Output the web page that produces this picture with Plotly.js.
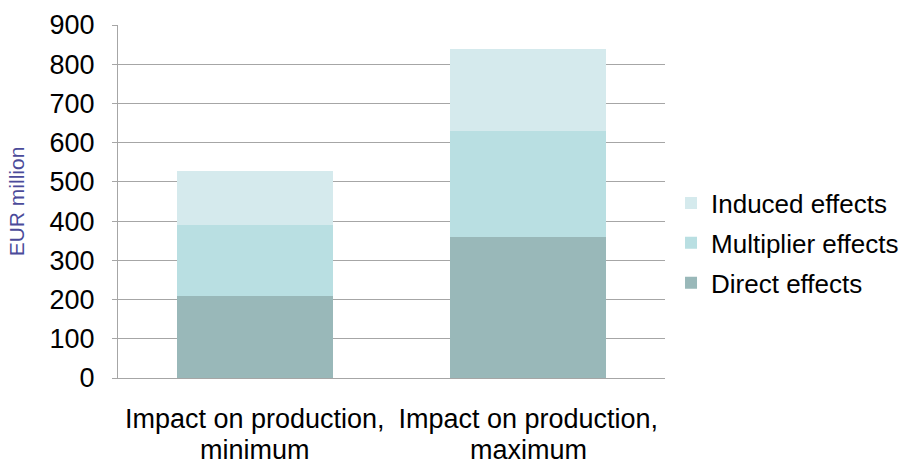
<!DOCTYPE html>
<html><head><meta charset="utf-8">
<script src="https://cdn.plot.ly/plotly-3.0.1.min.js"></script>
<style>body{margin:0;background:#fff}#c{width:916px;height:464px}</style>
</head><body><div id="c"></div>
<script>
const categories = ["Impact on production, minimum", "Impact on production, maximum"];
const tickLine1 = ["Impact on production,", "Impact on production,"];
const tickLine2 = ["minimum", "maximum"];
const directEffects = [210, 360];
const multiplierEffects = [180, 270];
const inducedEffects = [137, 208];
const yTicks = [0, 100, 200, 300, 400, 500, 600, 700, 800, 900];

const fam = "Liberation Sans, Arial, sans-serif";
const traces = [
  {type: "bar", name: "Direct effects", legendgroup: "direct", legendrank: 3, x: categories, y: directEffects, marker: {color: "#99b8b9"}},
  {type: "bar", name: "Multiplier effects", legendgroup: "mult", legendrank: 2, x: categories, y: multiplierEffects, marker: {color: "#b9dfe2"}},
  {type: "bar", name: "Induced effects", legendgroup: "induced", legendrank: 1, x: categories, y: inducedEffects, marker: {color: "#d5eaed"}}
];
const annotations = categories.map((c, i) => ({
  xref: "x", yref: "paper", x: c, y: 0, yanchor: "middle", xanchor: "center", yshift: -72,
  text: tickLine2[i], showarrow: false, font: {family: fam, size: 27, color: "#000"}
}));
const layout = {
  width: 916, height: 464,
  margin: {l: 118, r: 251, t: 25, b: 86},
  barmode: "stack", bargap: 0.43,
  paper_bgcolor: "#fff", plot_bgcolor: "#fff",
  font: {family: fam, size: 27, color: "#000"},
  showlegend: true,
  legend: {x: 1.011, y: 0.382, yanchor: "middle", xanchor: "left", traceorder: "grouped",
           font: {family: fam, size: 26, color: "#000"}, itemwidth: 20, tracegroupgap: 3},
  annotations: annotations,
  xaxis: {showline: true, linecolor: "#a6a6a6", linewidth: 1, ticks: "", tickfont: {size: 27},
          tickvals: categories, ticktext: tickLine1,
          showgrid: false, zeroline: false, ticklabelstandoff: 17},
  yaxis: {range: [0, 900], tickvals: yTicks, showline: true, linecolor: "#a6a6a6", linewidth: 1,
          ticks: "outside", ticklen: 5, tickcolor: "#a6a6a6", showgrid: true, gridcolor: "#a6a6a6",
          zeroline: false, tickfont: {size: 27}, ticklabelstandoff: 12,
          title: {text: "EUR million", font: {size: 21, color: "#4b4b9a"}, standoff: 19}}
};
Plotly.newPlot("c", traces, layout, {displayModeBar: false, staticPlot: true});
</script></body></html>
